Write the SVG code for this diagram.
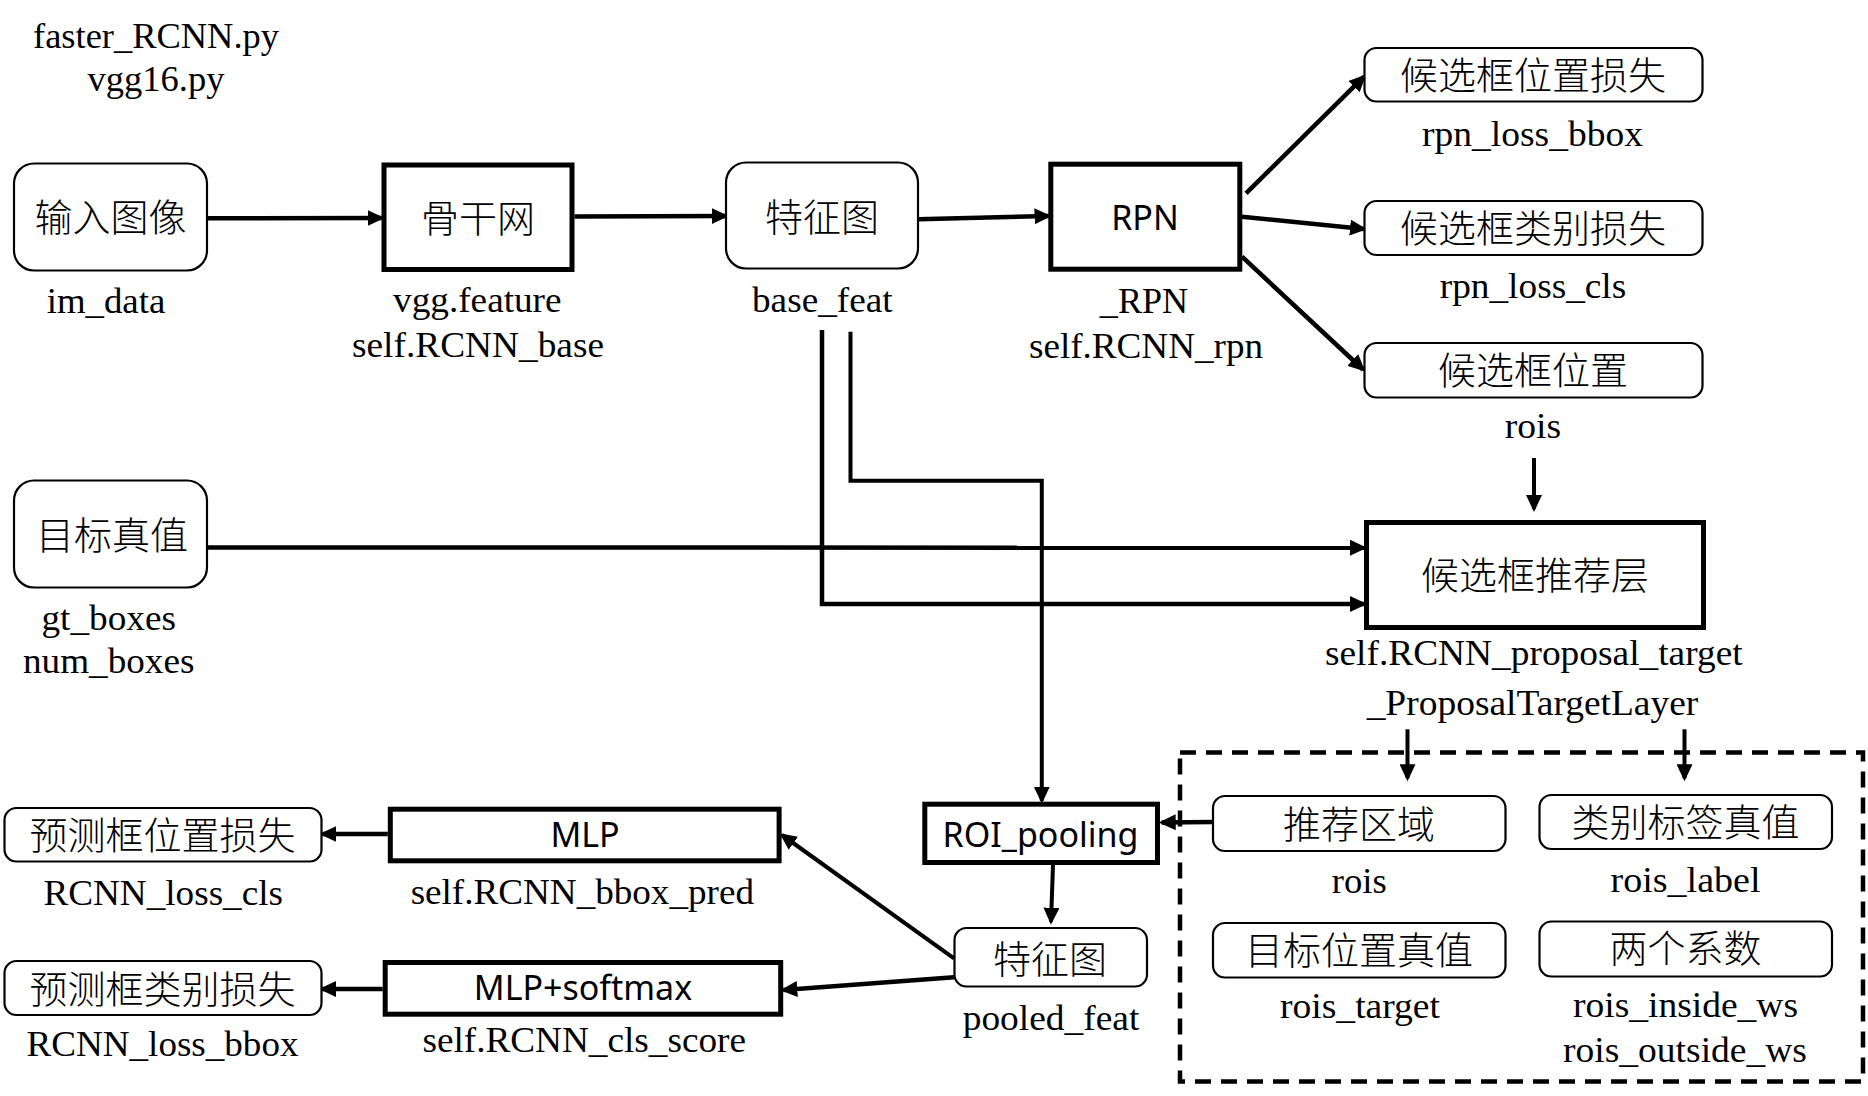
<svg xmlns="http://www.w3.org/2000/svg" width="1868" height="1096" viewBox="0 0 1868 1096">
<style>
.bg{fill:#fff}
.rbox{fill:#fff;stroke:#000;stroke-width:2.2}
.tbox{fill:#fff;stroke:#000;stroke-width:5}
.cjk{font-family:"Noto Sans CJK SC",sans-serif;font-size:38px;font-weight:300;text-anchor:middle;fill:#000}
.sans{font-family:"Noto Sans","Noto Sans CJK SC",sans-serif;font-size:34px;font-weight:400;text-anchor:middle;fill:#000}
.lbl{font-family:"Liberation Serif","Times New Roman",serif;font-size:36px;text-anchor:middle;fill:#000}
.ln{fill:none;stroke:#000;stroke-width:4.5}
.lt{fill:none;stroke:#000;stroke-width:4}
.dash{fill:none;stroke:#000;stroke-width:4.5;stroke-dasharray:16 10}
</style>
<defs>
<marker id="ah" markerUnits="userSpaceOnUse" markerWidth="18" markerHeight="16" refX="14" refY="8" orient="auto">
<path d="M0,0 L17,8 L0,16 z" fill="#000"/>
</marker>
</defs>
<rect class="bg" x="0" y="0" width="1868" height="1096"/>

<g id="title">
<text class="lbl" x="156" y="48" font-size="37" textLength="246" lengthAdjust="spacingAndGlyphs">faster_RCNN.py</text>
<text class="lbl" x="156" y="91" font-size="37" textLength="137" lengthAdjust="spacingAndGlyphs">vgg16.py</text>
</g>

<g id="connectors">
<path class="ln" d="M207,218.3 L381.6,218" marker-end="url(#ah)"/>
<path class="ln" d="M574.5,216.5 L725.7,216" marker-end="url(#ah)"/>
<path class="ln" d="M918.3,219.3 L1048.5,216" marker-end="url(#ah)"/>
<path class="ln" d="M1246,193.3 L1364,76.7" marker-end="url(#ah)"/>
<path class="ln" d="M1242,216.7 L1364,229" marker-end="url(#ah)"/>
<path class="ln" d="M1242,256.7 L1363,369.5" marker-end="url(#ah)"/>
<path class="lt" d="M1534,458 L1534,509" marker-end="url(#ah)"/>
<path class="ln" d="M206.8,547.5 L1364,547.7" marker-end="url(#ah)"/>
<path class="ln" d="M822,330 L822,604 L1364,604" marker-end="url(#ah)"/>
<path class="lt" d="M850.5,331.7 L850.5,480.7 L1041.8,480.7 L1041.8,800.7" marker-end="url(#ah)"/>
<path class="lt" d="M1053,865 L1051,921.7" marker-end="url(#ah)"/>
<path class="ln" d="M1212.7,822 L1161.7,822.5" marker-end="url(#ah)"/>
<path class="lt" d="M954,958.3 L782,835" marker-end="url(#ah)"/>
<path class="ln" d="M954,977.3 L783.3,990" marker-end="url(#ah)"/>
<path class="ln" d="M387.8,834 L322.4,834" marker-end="url(#ah)"/>
<path class="ln" d="M382.7,989 L322,989" marker-end="url(#ah)"/>
<path class="lt" d="M1407.5,729.3 L1407.5,778.3" marker-end="url(#ah)"/>
<path class="lt" d="M1684.5,729.3 L1684.5,778.3" marker-end="url(#ah)"/>
</g>

<g id="group-dashed">
<rect class="dash" x="1180" y="752.5" width="683" height="329"/>
</g>

<g id="node-input">
<rect class="rbox" x="14" y="163.5" width="193" height="107" rx="20"/>
<text class="cjk" x="110.5" y="231">输入图像</text>
<text class="lbl" x="106" y="313.3" textLength="118.6" lengthAdjust="spacingAndGlyphs">im_data</text>
</g>

<g id="node-backbone">
<rect class="tbox" x="384" y="165" width="188" height="104.5"/>
<text class="cjk" x="478" y="232">骨干网</text>
<text class="lbl" x="477.3" y="311.7" textLength="168.5" lengthAdjust="spacingAndGlyphs">vgg.feature</text>
<text class="lbl" x="478" y="356.7" textLength="252" lengthAdjust="spacingAndGlyphs">self.RCNN_base</text>
</g>

<g id="node-feat">
<rect class="rbox" x="726" y="162.5" width="192" height="106" rx="20"/>
<text class="cjk" x="822" y="230.5">特征图</text>
<text class="lbl" x="822.3" y="311.7" textLength="140.6" lengthAdjust="spacingAndGlyphs">base_feat</text>
</g>

<g id="node-rpn">
<rect class="tbox" x="1050.8" y="164.2" width="189" height="105"/>
<text class="sans" x="1145" y="230" font-size="35">RPN</text>
<text class="lbl" x="1144" y="313.3" textLength="88.3" lengthAdjust="spacingAndGlyphs">_RPN</text>
<text class="lbl" x="1146" y="358.3" textLength="234" lengthAdjust="spacingAndGlyphs">self.RCNN_rpn</text>
</g>

<g id="node-rpn-bbox">
<rect class="rbox" x="1364.5" y="48" width="338" height="53.5" rx="12"/>
<text class="cjk" x="1533" y="89">候选框位置损失</text>
<text class="lbl" x="1532.5" y="145.7" textLength="221" lengthAdjust="spacingAndGlyphs">rpn_loss_bbox</text>
</g>

<g id="node-rpn-cls">
<rect class="rbox" x="1364.5" y="201" width="338" height="54" rx="12"/>
<text class="cjk" x="1533" y="242">候选框类别损失</text>
<text class="lbl" x="1533" y="297.7" textLength="186.5" lengthAdjust="spacingAndGlyphs">rpn_loss_cls</text>
</g>

<g id="node-rois">
<rect class="rbox" x="1364.5" y="343" width="338" height="54.5" rx="12"/>
<text class="cjk" x="1533" y="384">候选框位置</text>
<text class="lbl" x="1533" y="438.3" textLength="56.4" lengthAdjust="spacingAndGlyphs">rois</text>
</g>

<g id="node-gt">
<rect class="rbox" x="14" y="480.5" width="193" height="107" rx="20"/>
<text class="cjk" x="112" y="549">目标真值</text>
<text class="lbl" x="108.7" y="630" textLength="134.5" lengthAdjust="spacingAndGlyphs">gt_boxes</text>
<text class="lbl" x="108.7" y="673.3" textLength="171.5" lengthAdjust="spacingAndGlyphs">num_boxes</text>
</g>

<g id="node-proposal">
<rect class="tbox" x="1366.5" y="522.5" width="337" height="105"/>
<text class="cjk" x="1535" y="589">候选框推荐层</text>
<text class="lbl" x="1533.8" y="665" textLength="417.7" lengthAdjust="spacingAndGlyphs">self.RCNN_proposal_target</text>
<text class="lbl" x="1532.5" y="715" textLength="331.7" lengthAdjust="spacingAndGlyphs">_ProposalTargetLayer</text>
</g>

<g id="node-roi-region">
<rect class="rbox" x="1213" y="796" width="292.5" height="55" rx="12"/>
<text class="cjk" x="1359" y="838">推荐区域</text>
<text class="lbl" x="1359.2" y="893.3" textLength="55" lengthAdjust="spacingAndGlyphs">rois</text>
</g>

<g id="node-label">
<rect class="rbox" x="1539.5" y="795" width="292.5" height="54" rx="12"/>
<text class="cjk" x="1685.5" y="836">类别标签真值</text>
<text class="lbl" x="1685.5" y="891.7" textLength="150" lengthAdjust="spacingAndGlyphs">rois_label</text>
</g>

<g id="node-target">
<rect class="rbox" x="1213" y="923" width="292.5" height="54.5" rx="12"/>
<text class="cjk" x="1359" y="964">目标位置真值</text>
<text class="lbl" x="1360" y="1018.3" textLength="160" lengthAdjust="spacingAndGlyphs">rois_target</text>
</g>

<g id="node-weights">
<rect class="rbox" x="1539.5" y="921.5" width="292.5" height="55" rx="12"/>
<text class="cjk" x="1685.5" y="962">两个系数</text>
<text class="lbl" x="1685.5" y="1016.7" textLength="225" lengthAdjust="spacingAndGlyphs">rois_inside_ws</text>
<text class="lbl" x="1685" y="1061.7" textLength="243.8" lengthAdjust="spacingAndGlyphs">rois_outside_ws</text>
</g>

<g id="node-roipool">
<rect class="tbox" x="924.8" y="804.2" width="232.7" height="58.3"/>
<text class="sans" x="1040.5" y="846.7">ROI_pooling</text>
</g>

<g id="node-pooled">
<rect class="rbox" x="954.5" y="928" width="192.5" height="58.5" rx="12"/>
<text class="cjk" x="1050" y="973">特征图</text>
<text class="lbl" x="1051" y="1030" textLength="176.6" lengthAdjust="spacingAndGlyphs">pooled_feat</text>
</g>

<g id="node-mlp">
<rect class="tbox" x="390.3" y="809.2" width="388.8" height="51.6"/>
<text class="sans" x="585" y="847.3">MLP</text>
<text class="lbl" x="582.3" y="904" textLength="343.3" lengthAdjust="spacingAndGlyphs">self.RCNN_bbox_pred</text>
</g>

<g id="node-mlp-softmax">
<rect class="tbox" x="385.2" y="962.5" width="395.5" height="51.7"/>
<text class="sans" x="583" y="1000">MLP+softmax</text>
<text class="lbl" x="584.2" y="1051.7" textLength="323.6" lengthAdjust="spacingAndGlyphs">self.RCNN_cls_score</text>
</g>

<g id="node-rcnn-bbox-loss">
<rect class="rbox" x="4.5" y="808" width="317" height="53.5" rx="12"/>
<text class="cjk" x="162.5" y="849">预测框位置损失</text>
<text class="lbl" x="163.2" y="905" textLength="239.6" lengthAdjust="spacingAndGlyphs">RCNN_loss_cls</text>
</g>

<g id="node-rcnn-cls-loss">
<rect class="rbox" x="4.5" y="961" width="317" height="54" rx="12"/>
<text class="cjk" x="162.5" y="1003">预测框类别损失</text>
<text class="lbl" x="162.5" y="1056" textLength="272" lengthAdjust="spacingAndGlyphs">RCNN_loss_bbox</text>
</g>
</svg>
